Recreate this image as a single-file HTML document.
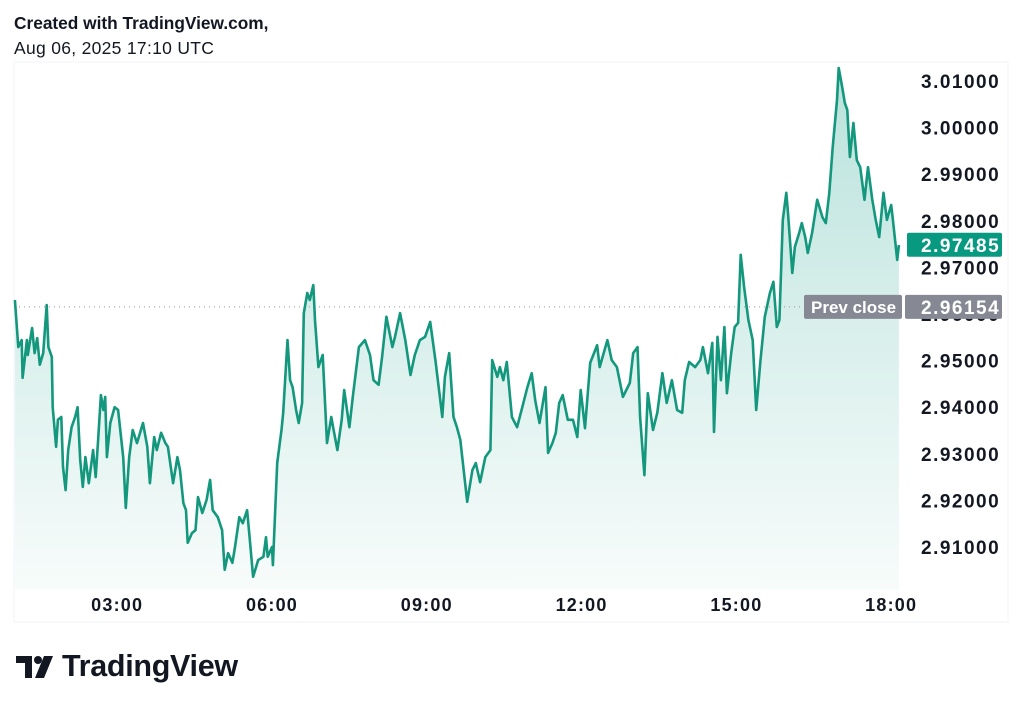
<!DOCTYPE html>
<html><head><meta charset="utf-8">
<style>
body{margin:0;background:#fff;width:1024px;height:707px;overflow:hidden;font-family:"Liberation Sans",sans-serif;}
.hdr{position:absolute;left:14px;font-size:17.3px;color:#131722;font-weight:bold;}
</style></head>
<body>
<div class="hdr" style="top:13px">Created with TradingView.com,</div>
<div class="hdr" style="top:38px;font-weight:normal;font-size:17.5px;letter-spacing:0.3px">Aug 06, 2025 17:10 UTC</div>
<svg id="chart" width="1024" height="707" style="position:absolute;left:0;top:0">
<defs><linearGradient id="g" x1="0" y1="0" x2="0" y2="1">
<stop offset="0" stop-color="#089981" stop-opacity="0.28"/>
<stop offset="1" stop-color="#089981" stop-opacity="0.03"/></linearGradient></defs>
</svg>
<div style="position:absolute;left:16px;top:649px;display:flex;align-items:center;">
<svg width="44" height="28"><path d="M0 3h16v22h-7V10H0z" fill="#131722"/><circle cx="22" cy="7" r="4" fill="#131722"/><path d="M28 3h9l-9 22h-9z" fill="#131722"/></svg>
<span style="font-size:30.5px;font-weight:bold;color:#131722;margin-left:2px;letter-spacing:-0.3px">TradingView</span>
</div>
<script>
const times=[61,65,69,70,75,76,81,84,87,90,94,98,100,104,105,109,111,115,117,120,123,127,131,134,137,140,143,147,152,155,158,161,164,166,168,172,177,181,187,190,194,198,203,210,215,218,223,226,231,236,239,245,250,253,257,260,262,267,271,274,279,284,288,291,297,302,305,309,314,317,322,326,331,334,338,344,350,353,355,360,361,366,371,373,378,381,384,388,391,395,397,401,404,408,410,414,419,424,429,431,436,441,444,450,454,461,468,474,478,484,488,493,500,503,509,515,521,526,532,538,544,550,558,561,566,571,575,579,582,587,593,597,602,608,614,616,622,625,629,633,639,645,651,657,662,666,671,678,681,686,690,694,698,704,710,715,719,724,730,738,741,750,755,761,768,776,780,785,788,793,797,803,808,814,819,825,831,837,840,845,852,858,861,867,872,874,878,882,886,889,894,898,902,905,909,914,919,923,928,933,939,943,947,950,954,958,960,965,968,973,976,980,983,988,994,1000,1004,1008,1012,1017,1019,1023,1026,1029,1032,1036,1040,1044,1049,1053,1058,1062,1066,1071,1075,1080,1082,1087,1089];
const prices=[2.9630,2.9529,2.9544,2.9463,2.9544,2.9512,2.9570,2.9516,2.9548,2.9491,2.9516,2.9619,2.9529,2.9508,2.9400,2.9315,2.9373,2.9379,2.9272,2.9222,2.9308,2.9357,2.9379,2.9400,2.9287,2.9229,2.9293,2.9237,2.9308,2.9250,2.9336,2.9426,2.9394,2.9422,2.9293,2.9366,2.9400,2.9394,2.9293,2.9184,2.9293,2.9351,2.9323,2.9366,2.9315,2.9237,2.9336,2.9308,2.9345,2.9323,2.9315,2.9237,2.9293,2.9265,2.9194,2.9179,2.9109,2.9130,2.9136,2.9207,2.9173,2.9201,2.9244,2.9179,2.9164,2.9136,2.9051,2.9087,2.9066,2.9100,2.9164,2.9151,2.9179,2.9121,2.9036,2.9072,2.9079,2.9121,2.9079,2.9100,2.9061,2.9280,2.9351,2.9388,2.9544,2.9458,2.9443,2.9394,2.9366,2.9409,2.9602,2.9645,2.9630,2.9662,2.9587,2.9486,2.9512,2.9323,2.9379,2.9357,2.9308,2.9373,2.9437,2.9357,2.9422,2.9529,2.9544,2.9512,2.9458,2.9448,2.9508,2.9594,2.9529,2.9551,2.9602,2.9544,2.9469,2.9512,2.9544,2.9551,2.9583,2.9501,2.9379,2.9465,2.9516,2.9379,2.9357,2.9330,2.9280,2.9197,2.9265,2.9280,2.9239,2.9293,2.9308,2.9501,2.9465,2.9486,2.9458,2.9497,2.9379,2.9357,2.9400,2.9443,2.9473,2.9415,2.9366,2.9443,2.9302,2.9323,2.9345,2.9409,2.9426,2.9373,2.9373,2.9336,2.9437,2.9355,2.9495,2.9533,2.9486,2.9544,2.9501,2.9486,2.9422,2.9452,2.9516,2.9529,2.9379,2.9254,2.9430,2.9351,2.9388,2.9473,2.9409,2.9458,2.9394,2.9388,2.9458,2.9497,2.9486,2.9501,2.9529,2.9473,2.9538,2.9347,2.9551,2.9458,2.9572,2.9430,2.9516,2.9572,2.9581,2.9727,2.9658,2.9587,2.9544,2.9394,2.9501,2.9594,2.9645,2.9669,2.9572,2.9587,2.9802,2.9860,2.9817,2.9688,2.9744,2.9774,2.9795,2.9765,2.9731,2.9774,2.9845,2.9808,2.9795,2.9860,2.9958,3.0059,3.0128,3.0087,3.0053,3.0038,2.9937,3.0010,2.9930,2.9915,2.9845,2.9915,2.9845,2.9802,2.9765,2.9860,2.9802,2.9834,2.9802,2.9716,2.9748];
const yTicks=[3.01,3.00,2.99,2.98,2.97,2.96,2.95,2.94,2.93,2.92,2.91];
const xTickMinutes=[180,360,540,720,900,1080];
const xTickLabels=["03:00","06:00","09:00","12:00","15:00","18:00"];
const lastPrice=2.97485;
const prevClose=2.96154;

const X=m=>14+(m-60)*0.86;
const Y=v=>81+(3.01-v)*4660;
const svg=document.getElementById('chart');
const NS='http://www.w3.org/2000/svg';
function mk(t,a){const e=document.createElementNS(NS,t);for(const k in a)e.setAttribute(k,a[k]);svg.appendChild(e);return e;}
const FONT='Liberation Sans, sans-serif';

const bg=mk('rect',{x:14,y:62,width:994,height:560,fill:'none',stroke:'#f0f3fa','stroke-width':1});



let d='';
times.forEach((t,i)=>{d+=(i?'L':'M')+X(t).toFixed(1)+' '+Y(prices[i]).toFixed(1);});
const area=mk('path',{d:d+`L${X(times[times.length-1]).toFixed(1)} 590L${X(times[0]).toFixed(1)} 590Z`,fill:'url(#g)'});



const pc=mk('line',{x1:14,x2:804,y1:Y(prevClose),y2:Y(prevClose),stroke:'#9598a1','stroke-width':1,'stroke-dasharray':'1 4'});



const line=mk('path',{d:d,fill:'none',stroke:'#13977d','stroke-width':2.6,'stroke-linejoin':'round'});



yTicks.forEach(v=>{
  const t=mk('text',{x:921,y:Y(v)+7,'font-size':19,'font-weight':'bold',fill:'#131722','font-family':FONT,'letter-spacing':1.5});
  t.textContent=v.toFixed(5);
  
  
});
xTickMinutes.forEach((m,i)=>{
  const t=mk('text',{x:X(m),y:611,'font-size':18,'font-weight':'bold',fill:'#131722','text-anchor':'middle','font-family':FONT,'letter-spacing':1.2});
  t.textContent=xTickLabels[i];
  
  
});

const ly=Y(lastPrice);
const lb=mk('rect',{x:907,y:ly-12,width:95,height:24,rx:2,fill:'#089981'});


const lt=mk('text',{x:921,y:ly+7,'font-size':19,'font-weight':'bold',fill:'#fff','font-family':FONT,'letter-spacing':1.5});
lt.textContent=lastPrice.toFixed(5);



const py=Y(prevClose);
const pb1=mk('rect',{x:804,y:py-12,width:98,height:24,rx:2,fill:'#868993'});


const pt1=mk('text',{x:811,y:py+6,'font-size':17,'font-weight':'bold',fill:'#fff','font-family':FONT});
pt1.textContent='Prev close';


const pb2=mk('rect',{x:905,y:py-12,width:97,height:24,rx:2,fill:'#868993'});


const pt2=mk('text',{x:921,y:py+7,'font-size':19,'font-weight':'bold',fill:'#fff','font-family':FONT,'letter-spacing':1.5});
pt2.textContent=prevClose.toFixed(5);


</script>
</body></html>
